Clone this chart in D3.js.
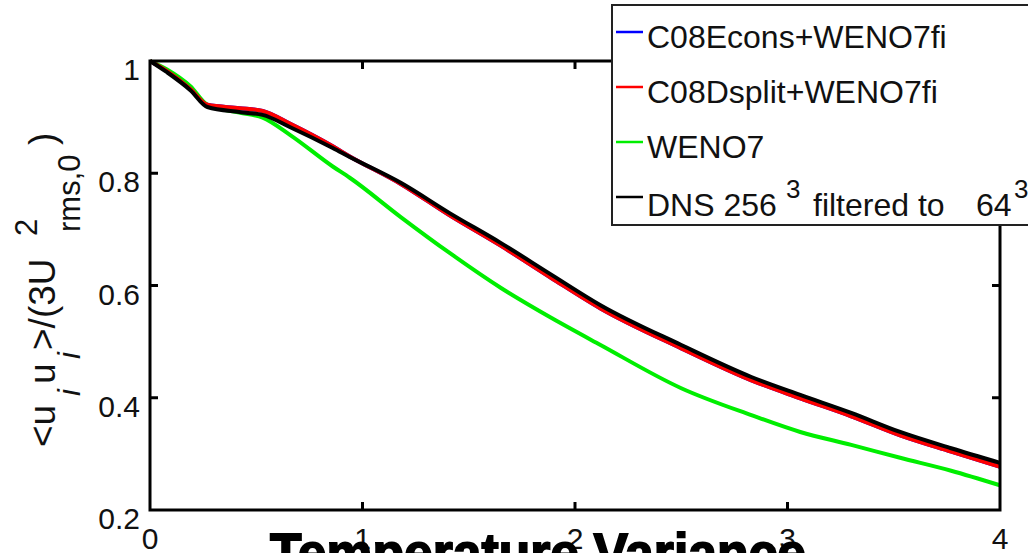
<!DOCTYPE html>
<html>
<head>
<meta charset="utf-8">
<script src="https://cdn.jsdelivr.net/npm/d3@7"></script>
<style>
  html, body { margin: 0; padding: 0; background: #fff; }
  svg { display: block; font-family: "Liberation Sans", Arial, sans-serif; }
</style>
</head>
<body>
<div id="chart"></div>
<script>
// data
const times = [0, 0.08, 0.19, 0.27, 0.42, 0.53, 0.66, 0.86, 0.94, 1.18, 1.41, 1.65, 1.89, 2.12, 2.5, 2.83, 3.06, 3.3, 3.53, 3.77, 4.0];
const econsVals = [1.0, 0.982, 0.950, 0.922, 0.916, 0.911, 0.888, 0.848, 0.830, 0.781, 0.725, 0.671, 0.613, 0.559, 0.488, 0.431, 0.399, 0.367, 0.333, 0.304, 0.277];
const dsplitVals = [1.0, 0.982, 0.950, 0.922, 0.916, 0.911, 0.888, 0.848, 0.830, 0.781, 0.725, 0.671, 0.613, 0.559, 0.488, 0.431, 0.399, 0.367, 0.333, 0.304, 0.277];
const wenoVals = [1.0, 0.985, 0.955, 0.922, 0.908, 0.899, 0.868, 0.812, 0.792, 0.722, 0.658, 0.596, 0.542, 0.494, 0.417, 0.369, 0.339, 0.316, 0.293, 0.270, 0.244];
const dnsVals = [1.0, 0.980, 0.948, 0.918, 0.909, 0.904, 0.882, 0.845, 0.829, 0.783, 0.729, 0.676, 0.619, 0.565, 0.494, 0.437, 0.405, 0.373, 0.339, 0.310, 0.284];

const seriesNames = ["C08Econs+WENO7fi", "C08Dsplit+WENO7fi", "WENO7", "DNS"];
const seriesColors = ["#0000ff", "#ff0000", "#00ee00", "#000000"];
const xTicks = [0, 1, 2, 3, 4];
const yTicks = [0.2, 0.4, 0.6, 0.8, 1];
const yTickLabels = ["0.2", "0.4", "0.6", "0.8", "1"];

const width = 1028, height = 553;
const svg = d3.select("#chart").append("svg")
  .attr("width", width)
  .attr("height", height);

svg.append("rect").attr("width", width).attr("height", height).attr("fill", "#fff");

const x = d3.scaleLinear().domain([0, 4]).range([150, 1000]);
const y = d3.scaleLinear().domain([0.2, 1]).range([510, 61]);

// lines
const allVals = [econsVals, dsplitVals, wenoVals, dnsVals];
const line = d3.line()
  .x(d => x(d[0]))
  .y(d => y(d[1]))
  .curve(d3.curveMonotoneX);

// draw blue first (hidden under red), then green, red, black
[0, 2, 1, 3].forEach(i => {
  svg.append("path")
    .datum(times.map((t, k) => [t, allVals[i][k]]))
    .attr("d", line)
    .attr("fill", "none")
    .attr("stroke", seriesColors[i])
    .attr("stroke-width", 4)
    .attr("stroke-linejoin", "round");
});

// axes box
svg.append("rect")
  .attr("x", x(0)).attr("y", y(1))
  .attr("width", x(4) - x(0)).attr("height", y(0.2) - y(1))
  .attr("fill", "none").attr("stroke", "#000").attr("stroke-width", 3);

// inward ticks on all four sides
const tickLen = 8;
const inner = xTicks.filter(d => d > 0 && d < 4);
svg.append("g").selectAll("line").data(inner).join("line")
  .attr("x1", d => x(d)).attr("x2", d => x(d))
  .attr("y1", y(0.2)).attr("y2", y(0.2) - tickLen)
  .attr("stroke", "#000").attr("stroke-width", 3);
svg.append("g").selectAll("line").data(inner).join("line")
  .attr("x1", d => x(d)).attr("x2", d => x(d))
  .attr("y1", y(1)).attr("y2", y(1) + tickLen)
  .attr("stroke", "#000").attr("stroke-width", 3);
const innerY = yTicks.filter(d => d > 0.2 && d < 1);
svg.append("g").selectAll("line").data(innerY).join("line")
  .attr("x1", x(0)).attr("x2", x(0) + tickLen)
  .attr("y1", d => y(d)).attr("y2", d => y(d))
  .attr("stroke", "#000").attr("stroke-width", 3);
svg.append("g").selectAll("line").data(innerY).join("line")
  .attr("x1", x(4)).attr("x2", x(4) - tickLen)
  .attr("y1", d => y(d)).attr("y2", d => y(d))
  .attr("stroke", "#000").attr("stroke-width", 3);

// tick labels
svg.append("g").selectAll("text").data(yTicks).join("text")
  .attr("x", x(0) - 10)
  .attr("y", d => y(d) + 19)
  .attr("text-anchor", "end")
  .attr("font-size", 30)
  .attr("fill", "#111")
  .text((d, i) => yTickLabels[i]);

svg.append("g").selectAll("text").data(xTicks).join("text")
  .attr("x", d => x(d))
  .attr("y", y(0.2) + 39)
  .attr("text-anchor", "middle")
  .attr("font-size", 30)
  .attr("fill", "#111")
  .text(d => d);

// y axis label  <u_i u_i>/(3U^2_rms,0)
const yl = svg.append("g").attr("transform", "translate(55,0) rotate(-90)")
  .attr("fill", "#111");
const ylParts = [
  { s: "<u", at: 447, dy: 0, fs: 37, it: false },
  { s: "i", at: 396, dy: 25, fs: 31, it: true },
  { s: "u", at: 384, dy: 0, fs: 37, it: false },
  { s: "i", at: 359, dy: 25, fs: 31, it: true },
  { s: ">/(3U", at: 350, dy: 0, fs: 37, it: false },
  { s: "2", at: 236, dy: -18, fs: 31, it: false },
  { s: "rms,0", at: 232, dy: 25, fs: 31, it: false },
  { s: ")", at: 145, dy: 0, fs: 37, it: false }
];
ylParts.forEach(p => {
  yl.append("text")
    .attr("x", -p.at)
    .attr("y", p.dy)
    .attr("font-size", p.fs)
    .attr("font-style", p.it ? "italic" : "normal")
    .text(p.s);
});

// legend
const lg = svg.append("g");
lg.append("rect")
  .attr("x", 612).attr("y", 5)
  .attr("width", 430).attr("height", 220)
  .attr("fill", "#fff").attr("stroke", "#222").attr("stroke-width", 2);
const rowY = [32, 87, 142, 197];
seriesNames.forEach((name, i) => {
  lg.append("line")
    .attr("x1", 616).attr("x2", 643)
    .attr("y1", rowY[i]).attr("y2", rowY[i])
    .attr("stroke", seriesColors[i]).attr("stroke-width", 2.5);
});
seriesNames.slice(0, 3).forEach((name, i) => {
  lg.append("text")
    .attr("x", 647).attr("y", rowY[i] + 16)
    .attr("font-size", 32)
    .attr("fill", "#111")
    .text(name);
});
const dns = lg.append("text").attr("y", rowY[3] + 19).attr("font-size", 32).attr("fill", "#111");
dns.append("tspan").attr("x", 647).text("DNS 256");
dns.append("tspan").attr("x", 786).attr("dy", -18).attr("font-size", 26).text("3");
dns.append("tspan").attr("x", 813).attr("dy", 18).text("filtered to");
dns.append("tspan").attr("x", 976).text("64");
dns.append("tspan").attr("x", 1014).attr("dy", -18).attr("font-size", 26).text("3");

// title, cut off by bottom edge
svg.append("text")
  .attr("x", 270)
  .attr("y", 571)
  .attr("font-size", 54)
  .attr("font-weight", "bold")
  .attr("fill", "#000")
  .attr("stroke", "#000")
  .attr("stroke-width", 1.8)
  .attr("textLength", 536)
  .attr("lengthAdjust", "spacingAndGlyphs")
  .text("Temperature Variance");
</script>
</body>
</html>
